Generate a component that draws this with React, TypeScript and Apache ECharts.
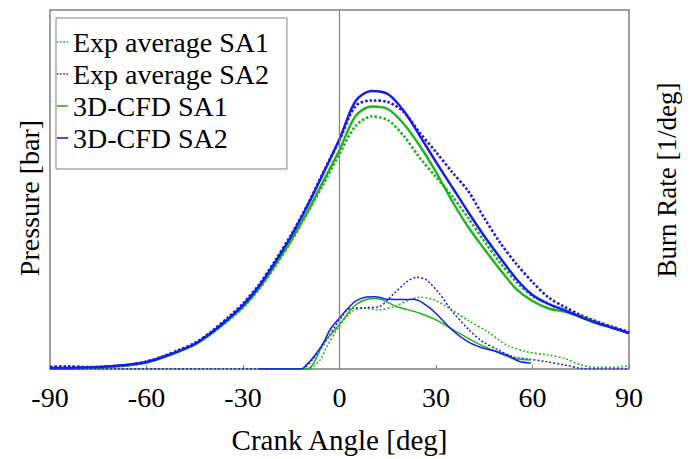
import React, { useEffect, useRef } from "react";
import * as echarts from "echarts";

// Crank angle grid for pressure traces [deg]
const angles = [-90, -85, -80, -75, -70, -65, -60, -55, -50, -45, -40, -35, -30, -25, -20, -15, -10, -5, 0, 5, 10, 15, 20, 25, 30, 35, 40, 45, 50, 55, 60, 65, 70, 75, 80, 85, 90];

// Pressure [bar]
const expSA1Pressure = [0.56, 0.70, 0.56, 0.42, 0.70, 1.11, 1.81, 3.20, 4.87, 6.82, 9.75, 13.23, 17.13, 22.28, 28.69, 35.65, 43.45, 51.53, 59.89, 67.69, 70.33, 69.36, 64.90, 58.77, 53.48, 48.19, 42.06, 35.65, 29.53, 24.23, 20.33, 18.11, 16.43, 14.57, 12.95, 11.42, 10.03];
const expSA2Pressure = [0.56, 0.70, 0.56, 0.56, 0.84, 1.25, 2.09, 3.48, 5.29, 7.24, 10.31, 14.07, 18.24, 23.54, 30.22, 37.46, 45.68, 54.87, 63.79, 73.26, 74.79, 74.37, 71.59, 65.74, 60.45, 54.87, 49.58, 42.06, 35.10, 29.25, 24.23, 19.92, 17.27, 15.04, 13.23, 11.70, 10.31];
const cfdSA1Pressure = [0.14, 0.14, 0.28, 0.42, 0.70, 1.11, 1.81, 3.20, 4.87, 6.82, 9.75, 13.37, 17.27, 22.56, 28.97, 35.93, 43.73, 52.37, 61.00, 70.47, 73.12, 72.42, 68.25, 62.12, 54.87, 46.80, 39.55, 33.43, 27.58, 22.28, 18.94, 16.85, 15.96, 14.48, 12.81, 11.42, 10.03];
const cfdSA2Pressure = [0.28, 0.28, 0.42, 0.56, 0.84, 1.25, 1.95, 3.34, 5.01, 6.96, 10.03, 13.65, 17.83, 23.12, 29.80, 37.05, 45.40, 54.60, 64.07, 74.65, 77.44, 76.58, 71.87, 64.90, 57.66, 50.70, 43.73, 37.05, 30.92, 25.07, 20.61, 18.11, 16.30, 14.48, 12.81, 11.42, 10.03];

// Burn rate [1/deg]
const expSA1BurnAngle = [-90, -10, -6, -4, 0, 4, 8, 12, 17, 21, 25, 29, 33, 40, 46, 52, 58, 65, 70, 75, 80, 85, 90];
const expSA1BurnRate = [0, 0, 0.0038, 0.0092, 0.0180, 0.0242, 0.0254, 0.0247, 0.0260, 0.0285, 0.0300, 0.0291, 0.0263, 0.0203, 0.0156, 0.0100, 0.0073, 0.0058, 0.0044, 0.0017, 0.0007, 0.0007, 0.0013];
const expSA2BurnAngle = [-90, -12, -8, -4, 0, 3, 8, 12, 17, 21, 24, 27, 31, 35, 40, 44, 49, 54, 59, 65, 70, 75, 80, 90];
const expSA2BurnRate = [0, 0, 0.0046, 0.0121, 0.0205, 0.0251, 0.0256, 0.0259, 0.0316, 0.0365, 0.0383, 0.0372, 0.0316, 0.0242, 0.0167, 0.0119, 0.0082, 0.0051, 0.0041, 0.0029, 0.0017, 0.0003, 0, 0];
const cfdSA1BurnAngle = [-25, -10, -8, -5, -2, 0, 4, 7, 10, 13, 18, 25, 30, 35, 42, 48, 54, 59.5];
const cfdSA1BurnRate = [0, 0, 0.0025, 0.0107, 0.0155, 0.0186, 0.0255, 0.0284, 0.0295, 0.0290, 0.0260, 0.0233, 0.0205, 0.0167, 0.0113, 0.0076, 0.0045, 0.0038];
const cfdSA2BurnAngle = [-25, -12, -10, -8, -5, -3, 0, 3, 5, 8, 11, 15, 20, 23, 26, 30, 35, 40, 44, 48, 52, 56, 59.5];
const cfdSA2BurnRate = [0, 0, 0.0021, 0.0051, 0.0109, 0.0163, 0.0213, 0.0259, 0.0284, 0.0300, 0.0302, 0.0291, 0.0290, 0.0291, 0.0275, 0.0232, 0.0163, 0.0113, 0.0090, 0.0076, 0.0058, 0.0031, 0.0025];

const seriesNames = ["Exp average SA1", "Exp average SA2", "3D-CFD SA1", "3D-CFD SA2"];
const xTicks = { min: -90, max: 90, interval: 30 };

const GREEN = "#1db31d";
const BLUE = "#1818f0";
const GRAY = "#808080";
const FONT = '"Liberation Serif", "Times New Roman", serif';

const DOTTED_ICON = "path://M0,0h2v2h-2zM4,0h2v2h-2zM8,0h2v2h-2zM12,0h2v2h-2z";
const SOLID_ICON = "path://M0,0h14v2h-14z";

const pairs = (xs: number[], ys: number[]) => xs.map((x, i) => [x, ys[i]]);

export default function App() {
  const ref = useRef<HTMLDivElement>(null);
  useEffect(() => {
    if (!ref.current) return;
    const chart = echarts.init(ref.current, undefined, { renderer: "svg" });
    const pressureLine = (name: string, data: number[], color: string, dotted: boolean) => ({
      name,
      type: "line",
      yAxisIndex: 0,
      data: pairs(angles, data),
      symbol: "none",
      smooth: 0.3,
      lineStyle: { color, width: dotted ? 2.6 : 2.4, type: dotted ? [2.5, 2] : "solid" },
      itemStyle: { color },
    });
    const burnLine = (name: string, xs: number[], ys: number[], color: string, dotted: boolean) => ({
      name,
      type: "line",
      yAxisIndex: 1,
      data: pairs(xs, ys),
      symbol: "none",
      smooth: 0.3,
      lineStyle: { color, width: 1.5, type: dotted ? [2, 2] : "solid" },
      itemStyle: { color },
    });
    const first: any = pressureLine(seriesNames[0], expSA1Pressure, GREEN, true);
    first.markLine = {
      silent: true,
      symbol: ["none", "none"],
      label: { show: false },
      lineStyle: { color: GRAY, type: "solid", width: 1.2 },
      data: [{ xAxis: 0 }],
    };
    chart.setOption({
      animation: false,
      grid: { left: 50, top: 10, right: 64, bottom: 90, show: true, borderColor: GRAY, borderWidth: 1.5, containLabel: false },
      legend: {
        data: [
          { name: seriesNames[0], icon: DOTTED_ICON },
          { name: seriesNames[1], icon: DOTTED_ICON },
          { name: seriesNames[2], icon: SOLID_ICON },
          { name: seriesNames[3], icon: SOLID_ICON },
        ],
        orient: "vertical",
        left: 56,
        top: 18,
        itemWidth: 11,
        itemHeight: 2,
        itemGap: 4,
        padding: [10, 18, 17, 1],
        borderColor: GRAY,
        borderWidth: 1,
        backgroundColor: "#fff",
        textStyle: { fontFamily: FONT, fontSize: 28, color: "#000", lineHeight: 28 },
      },
      xAxis: {
        type: "value",
        min: xTicks.min,
        max: xTicks.max,
        interval: xTicks.interval,
        name: "Crank Angle [deg]",
        nameLocation: "middle",
        nameGap: 56,
        nameTextStyle: { fontFamily: FONT, fontSize: 29, color: "#000" },
        axisLine: { show: false },
        axisTick: { show: true, inside: true, length: 4, lineStyle: { color: GRAY } },
        axisLabel: { fontFamily: FONT, fontSize: 28, color: "#000", margin: 14 },
        splitLine: { show: false },
      },
      yAxis: [
        {
          type: "value",
          min: 0,
          max: 100,
          axisLine: { show: false },
          axisTick: { show: false },
          axisLabel: { show: false },
          splitLine: { show: false },
        },
        {
          type: "value",
          min: 0,
          max: 0.15,
          position: "right",
          axisLine: { show: false },
          axisTick: { show: false },
          axisLabel: { show: false },
          splitLine: { show: false },
        },
      ],
      graphic: [
        {
          type: "text",
          x: 29,
          y: 198,
          rotation: Math.PI / 2,
          style: { text: "Pressure [bar]", fontFamily: FONT, fontSize: 28, fill: "#000", align: "center", verticalAlign: "middle" },
        },
        {
          type: "text",
          x: 667,
          y: 180,
          rotation: Math.PI / 2,
          style: { text: "Burn Rate [1/deg]", fontFamily: FONT, fontSize: 27, fill: "#000", align: "center", verticalAlign: "middle" },
        },
      ],
      series: [
        first,
        pressureLine(seriesNames[1], expSA2Pressure, BLUE, true),
        pressureLine(seriesNames[2], cfdSA1Pressure, GREEN, false),
        pressureLine(seriesNames[3], cfdSA2Pressure, BLUE, false),
        burnLine(seriesNames[0], expSA1BurnAngle, expSA1BurnRate, GREEN, true),
        burnLine(seriesNames[1], expSA2BurnAngle, expSA2BurnRate, BLUE, true),
        burnLine(seriesNames[2], cfdSA1BurnAngle, cfdSA1BurnRate, GREEN, false),
        burnLine(seriesNames[3], cfdSA2BurnAngle, cfdSA2BurnRate, BLUE, false),
      ],
    });
    return () => chart.dispose();
  }, []);
  return <div ref={ref} style={{ position: "fixed", left: 0, top: 0, width: 693, height: 459, background: "#fff" }} />;
}
